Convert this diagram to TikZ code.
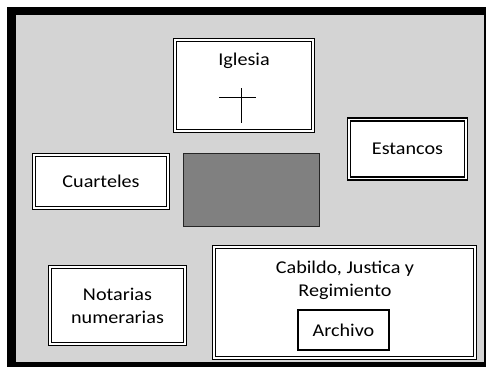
\documentclass[tikz,border=0pt]{standalone}
\usepackage{fontspec}
\setmainfont[FakeStretch=1.12]{Carlito}
\definecolor{fondo}{HTML}{D4D4D4}
\definecolor{plaza}{HTML}{808080}
\tikzset{
  edificio/.style={draw=black, line width=1.5pt, double=white, double distance=1.3pt,
    fill=white, inner sep=0pt},
  rotulo/.style={font=\fontsize{18}{23}\selectfont, align=center, inner sep=0pt}
}
\begin{document}
\begin{tikzpicture}[x=1pt,y=-1pt]
\useasboundingbox (0,0) rectangle (486,367);
% marco
\fill[white] (0,0) rectangle (486,367);
\fill[black] (7,7) rectangle (486,367);
\fill[fondo] (16,15) rectangle (484,362);
% Iglesia
\node [edificio, minimum width=138pt, minimum height=91pt] (iglesia) at (244,85.5) {};
\node [rotulo] (iglesiatxt) at (244,61) {Iglesia};
\draw[line width=1pt] (241,88) -- (241,123);
\draw[line width=1pt] (219,97) -- (256,97);
% Cuarteles
\node [edificio, minimum width=134pt, minimum height=53pt, rotulo] (cuarteles) at (101,181.5) {Cuarteles};
% plaza
\node [draw=black!85, line width=1pt, fill=plaza, minimum width=136pt, minimum height=73pt] (plaza) at (251.5,190) {};
% Estancos
\node [edificio, minimum width=117pt, minimum height=59pt, rotulo] (estancos) at (407.5,149) {Estancos};
% Notarias
\node [edificio, minimum width=135pt, minimum height=77pt, rotulo] (notarias) at (117.5,305.5) {Notarias\\numerarias};
% Cabildo
\node [edificio, minimum width=261pt, minimum height=111pt] (cabildo) at (344.5,302.5) {};
\node [rotulo] (cabildotxt) at (345,280) {Cabildo, Justica y\\Regimiento};
\node [draw=black, line width=1.8pt, fill=white, minimum width=91pt, minimum height=40pt, rotulo] (archivo) at (343.5,330) {Archivo};
\end{tikzpicture}
\end{document}
